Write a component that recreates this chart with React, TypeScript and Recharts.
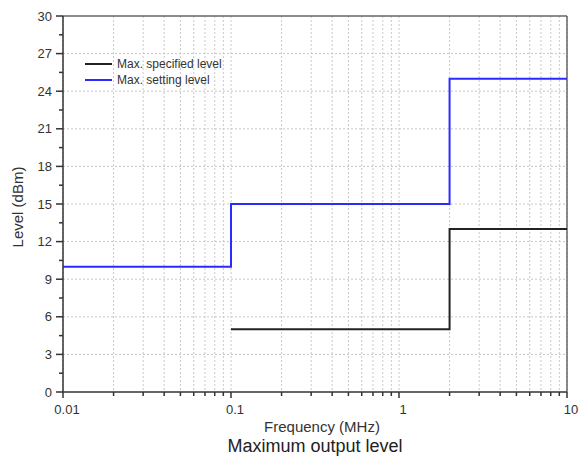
import React from "react";
import {
  LineChart,
  Line,
  XAxis,
  YAxis,
  CartesianGrid,
  ReferenceLine,
  Legend,
  Label,
} from "recharts";

// step data (frequency in MHz, level in dBm)
const specFreq = [0.1, 2, 10];
const specLevel = [5, 13, 13];
const settingFreq = [0.01, 0.1, 2, 10];
const settingLevel = [10, 15, 25, 25];
const seriesNames = ["Max. specified level", "Max. setting level"];

// axis ticks
const decades = [0.01, 0.1, 1];
const mults = [1, 2, 3, 4, 5, 6, 7, 8, 9];
const xMajor = [0.01, 0.1, 1, 10];
const xTicks = [...decades.flatMap((d) => mults.map((m) => +(d * m).toFixed(3))), 10];
const yMajor = [0, 3, 6, 9, 12, 15, 18, 21, 24, 27, 30];
const yTicks = [0, 1.5, 3, 4.5, 6, 7.5, 9, 10.5, 12, 13.5, 15, 16.5, 18, 19.5, 21, 22.5, 24, 25.5, 27, 28.5, 30];
const yGrid = [3, 6, 9, 12, 15, 18, 21, 24, 27];

const specData = specFreq.map((f, i) => ({ f, v: specLevel[i] }));
const settingData = settingFreq.map((f, i) => ({ f, v: settingLevel[i] }));

const FONT = "'Liberation Sans', Arial, sans-serif";
const GRID = "#c8c8c8";

const XTick = (props: any) => {
  const { x, y, payload } = props;
  const major = xMajor.some((m) => Math.abs(m - payload.value) < 1e-9);
  return (
    <g>
      <line x1={x} x2={x} y1={y} y2={y + (major ? 6 : 4)} stroke="#333" strokeWidth={1.5} />
      {major && (
        <text x={x + 4} y={y + 22} textAnchor="middle" fontSize={13} fill="#333" fontFamily={FONT}>
          {payload.value}
        </text>
      )}
    </g>
  );
};

const YTick = (props: any) => {
  const { x, y, payload } = props;
  const major = yMajor.includes(payload.value);
  return (
    <g>
      <line x1={x - (major ? 7 : 4)} x2={x} y1={y} y2={y} stroke="#333" strokeWidth={1.5} />
      {major && (
        <text x={x - 11} y={y + 4.5} textAnchor="end" fontSize={13} fill="#333" fontFamily={FONT}>
          {payload.value}
        </text>
      )}
    </g>
  );
};

const LegendBox = ({ payload }: any) => {
  const items = [...(payload || [])].sort(
    (a: any, b: any) => seriesNames.indexOf(a.value) - seriesNames.indexOf(b.value)
  );
  return (
    <div style={{ fontFamily: FONT, fontSize: 12, color: "#333" }}>
      {items.map((p: any) => (
        <div key={p.value} style={{ display: "flex", alignItems: "center", height: 16 }}>
          <div style={{ width: 27, height: 2, background: p.color, marginRight: 5 }} />
          <span>{p.value}</span>
        </div>
      ))}
    </div>
  );
};

const App = () => {
  return (
    <div style={{ position: "absolute", left: 0, top: 0, background: "#fff" }}>
      <LineChart width={581} height={457} margin={{ top: 16, right: 14, left: 0, bottom: 0 }}>
        <CartesianGrid horizontal={false} stroke={GRID} strokeDasharray="2 2" />
        {yGrid.map((v) => (
          <ReferenceLine key={v} y={v} stroke={GRID} strokeDasharray="2 2" />
        ))}
        <ReferenceLine y={30} stroke="#666" strokeWidth={1.5} />
        <ReferenceLine x={10} stroke="#666" strokeWidth={1.5} />
        <XAxis
          dataKey="f"
          type="number"
          scale="log"
          domain={[0.01, 10]}
          ticks={xTicks}
          allowDataOverflow
          tickSize={0}
          tickMargin={0}
          tickLine={false}
          tick={<XTick />}
          interval={0}
          height={65}
          axisLine={{ stroke: "#333", strokeWidth: 1.5 }}
        >
          <Label
            value="Frequency (MHz)"
            position="insideBottom"
            offset={25}
            dx={7}
            fontSize={15}
            fill="#333"
            fontFamily={FONT}
          />
          <Label
            value="Maximum output level"
            position="insideBottom"
            offset={5}
            fontSize={18}
            fill="#222"
            fontFamily={FONT}
          />
        </XAxis>
        <YAxis
          type="number"
          domain={[0, 30]}
          ticks={yTicks}
          interval={0}
          width={63}
          tickSize={0}
          tickMargin={0}
          tickLine={false}
          tick={<YTick />}
          axisLine={{ stroke: "#333", strokeWidth: 1.5 }}
        >
          <Label
            value="Level (dBm)"
            position="center"
            angle={-90}
            dx={-14}
            dy={3}
            fontSize={15}
            fill="#333"
            fontFamily={FONT}
          />
        </YAxis>
        <Legend
          layout="horizontal"
          verticalAlign="middle"
          align="center"
          content={<LegendBox />}
          wrapperStyle={{ position: "absolute", left: 85, top: 56, width: "auto" }}
        />
        <Line
          data={specData}
          dataKey="v"
          name={seriesNames[0]}
          type="stepAfter"
          stroke="#222"
          strokeWidth={2}
          dot={false}
          isAnimationActive={false}
        />
        <Line
          data={settingData}
          dataKey="v"
          name={seriesNames[1]}
          type="stepAfter"
          stroke="#2b2bff"
          strokeWidth={2}
          dot={false}
          isAnimationActive={false}
        />
      </LineChart>
    </div>
  );
};

export default App;
